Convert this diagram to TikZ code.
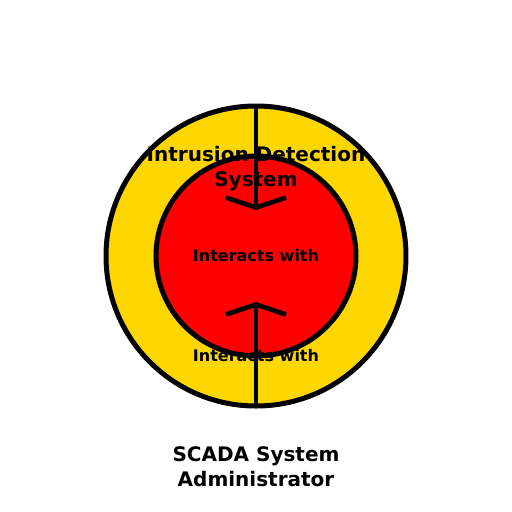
\documentclass[tikz,border=0pt]{standalone}
\usepackage{fontspec}
\setmainfont{DejaVu Sans}
\usepackage{xcolor}
\usetikzlibrary{arrows.meta}

\definecolor{idsYellow}{RGB}{255,215,0}
\definecolor{coreRed}{RGB}{255,0,0}

\tikzset{
  ring/.style={circle, draw=black, line width=3.75pt, inner sep=0pt},
  link/.style={draw=black, line width=3.5pt, -{Straight Barb[length=7.5pt, width=45pt, line width=3.5pt]}},
  bigText/.style={font=\bfseries\fontsize{15pt}{18.75pt}\selectfont, align=center, inner sep=0.75pt},
  smallText/.style={font=\bfseries\fontsize{12pt}{14.4pt}\selectfont, align=center, inner sep=0.75pt}
}

\begin{document}
\begin{tikzpicture}[x=0.75pt,y=0.75pt,yscale=-1,xscale=1]
\useasboundingbox (0,0) rectangle (512,512);

%Shape: Circle [outer ring]
\node [ring, fill=idsYellow, minimum size=225pt] (ids) at (256,256) {};
%Shape: Circle [inner disc]
\node [ring, fill=coreRed, minimum size=150pt] (core) at (256,256) {};

\coordinate (inTip) at (256,210);
\coordinate (outTip) at (256,302);
\coordinate (idsTop) at (256,106);
\coordinate (idsBottom) at (256,406);

%Straight Lines [in]
\draw [link] (idsTop) -- (inTip);
%Straight Lines [out]
\draw [link] (idsBottom) -- (outTip);

% Text Node
\node [bigText] (idsLabel) at (256,169) {Intrusion Detection\\System};
% Text Node
\node [smallText] (linkIn) at (256,256) {Interacts with};
% Text Node
\node [smallText] (linkOut) at (256,356) {Interacts with};
% Text Node
\node [bigText] (admin) at (256,467) {SCADA System\\Administrator};

\end{tikzpicture}
\end{document}
